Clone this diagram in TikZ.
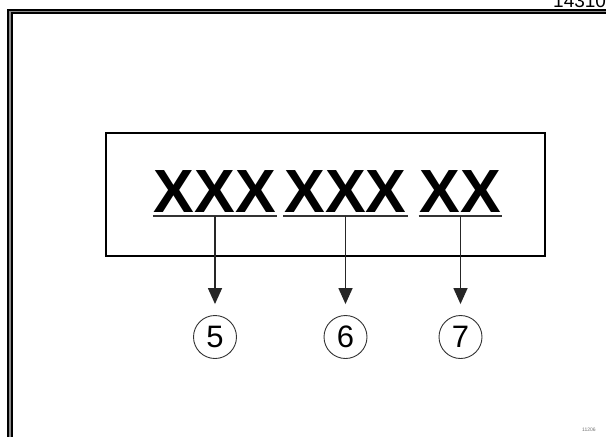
\documentclass[tikz,border=0pt]{standalone}
\usepackage{fontspec}
\setmainfont{Liberation Sans}
\usetikzlibrary{arrows.meta,calc}
\begin{document}
\begin{tikzpicture}[x=1pt,y=-1pt,
  code/.style={inner sep=0pt,text height=44pt,text depth=0pt,font=\bfseries\fontsize{61}{61}\selectfont},
  callout/.style={circle,draw=black!80,line width=0.9pt,minimum size=43pt,inner sep=0pt,font=\fontsize{31}{31}\selectfont},
  uline/.style={line width=1.6pt,black!80},
  arr/.style={line width=1.5pt,black!85,-{Triangle[width=14pt,length=16pt]},shorten >=11pt},
  frameout/.style={line width=5.5pt,black},
  framemid/.style={line width=1.3pt,black!45}]
\useasboundingbox (0,0) rectangle (606,437);
\fill[white] (0,0) rectangle (606,437);
% outer frame (double line)
\draw[frameout] (10,445) -- (10,11.5) -- (615,11.5);
\draw[framemid] (10,445) -- (10,11.5) -- (615,11.5);
\node[anchor=base west,inner sep=0pt,font=\fontsize{19}{19}\selectfont] (ref) at (553,7) {14310};
\node[inner sep=0pt,font=\fontsize{5}{5}\selectfont,text=black!55] (code) at (589,430) {11206};
% inner box
\node[draw,line width=1.6pt,minimum width=439pt,minimum height=123pt,inner sep=0pt] (box) at (325.5,194.5) {};
% code groups
\node[code] (t1) at (215,190) {XXX};
\node[code] (t2) at (345.5,190) {XXX};
\node[code] (t3) at (460.5,190) {XX};
\foreach \i in {1,2,3}{
  \coordinate (u\i) at ($(t\i.south)+(0,4)$);
  \draw[uline] ($(t\i.south west)+(-1,4)$) -- ($(t\i.south east)+(1,4)$);
}
% callouts
\node[callout] (c1) at (215,337) {5};
\node[callout] (c2) at (345.5,337) {6};
\node[callout] (c3) at (460.5,337) {7};
\foreach \i in {1,2,3}{
  \draw[arr] (u\i) -- (c\i.north);
}
\end{tikzpicture}
\end{document}
